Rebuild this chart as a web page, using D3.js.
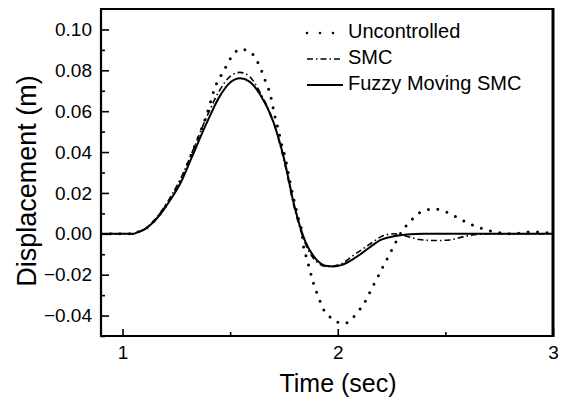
<!DOCTYPE html>
<html>
<head>
<meta charset="utf-8">
<script src="https://cdn.jsdelivr.net/npm/d3@7"></script>
<style>
  body { margin: 0; background: #fff; }
  svg { display: block; font-family: "Liberation Sans", Arial, sans-serif; }
</style>
</head>
<body>
<svg id="chart" width="565" height="400"></svg>
<script>
// data
const timeUnc = [0.9, 1.0, 1.05, 1.07, 1.1, 1.13, 1.16, 1.19, 1.22, 1.27, 1.32, 1.39, 1.437, 1.468, 1.499, 1.549, 1.6, 1.639, 1.662, 1.685, 1.709, 1.724, 1.74, 1.755, 1.778, 1.817, 1.833, 1.84, 1.856, 1.871, 1.887, 1.91, 1.934, 1.98, 2.02, 2.042, 2.088, 2.127, 2.158, 2.189, 2.22, 2.251, 2.297, 2.343, 2.398, 2.452, 2.514, 2.576, 2.638, 2.692, 2.754, 2.816, 2.878, 2.925, 3.0];
const dispUnc = [0, 0, 0, 0.0008, 0.002, 0.0045, 0.0078, 0.012, 0.0168, 0.026, 0.039, 0.058, 0.0736, 0.0793, 0.0854, 0.0904, 0.0883, 0.0815, 0.0752, 0.0687, 0.057, 0.0508, 0.0434, 0.0377, 0.0255, 0.0076, 0.001, -0.0055, -0.012, -0.018, -0.0242, -0.0308, -0.037, -0.0418, -0.044, -0.0435, -0.0389, -0.0332, -0.0267, -0.0205, -0.0141, -0.0079, 0.001, 0.0068, 0.0113, 0.0121, 0.0103, 0.0068, 0.0038, 0.0019, 0.0005, 0, 0.0009, 0.0009, 0.0002];

const timeSmc = [0.9, 1.0, 1.05, 1.07, 1.1, 1.13, 1.16, 1.19, 1.22, 1.27, 1.32, 1.39, 1.45, 1.5, 1.546, 1.59, 1.64, 1.7, 1.75, 1.8, 1.85, 1.9, 1.95, 1.98, 2.02, 2.08, 2.15, 2.2, 2.26, 2.32, 2.38, 2.45, 2.52, 2.58, 2.65, 2.7, 3.0];
const dispSmc = [0, 0, 0, 0.0008, 0.0021, 0.0047, 0.0082, 0.0125, 0.0175, 0.027, 0.039, 0.057, 0.07, 0.077, 0.079, 0.077, 0.069, 0.055, 0.036, 0.012, -0.005, -0.0135, -0.016, -0.0158, -0.0145, -0.01, -0.005, -0.0015, 0, -0.0012, -0.0028, -0.0033, -0.003, -0.0015, -0.0003, 0, 0];

const timeFuzzy = [0.9, 1.0, 1.05, 1.07, 1.1, 1.13, 1.16, 1.19, 1.22, 1.27, 1.32, 1.39, 1.45, 1.5, 1.546, 1.59, 1.64, 1.7, 1.75, 1.8, 1.85, 1.9, 1.95, 1.98, 2.02, 2.08, 2.15, 2.2, 2.26, 2.32, 2.4, 3.0];
const dispFuzzy = [0, 0, 0, 0.0008, 0.002, 0.0044, 0.0076, 0.0116, 0.0163, 0.025, 0.037, 0.054, 0.067, 0.074, 0.0761, 0.0745, 0.068, 0.055, 0.037, 0.013, -0.004, -0.0125, -0.0158, -0.016, -0.0152, -0.0118, -0.0065, -0.003, -0.0012, -0.0003, 0, 0];

const legendLabels = ["Uncontrolled", "SMC", "Fuzzy Moving SMC"];
const xTicks = [1, 2, 3];
const xMinor = [1.5, 2.5];
const yTicks = [-0.04, -0.02, 0.00, 0.02, 0.04, 0.06, 0.08, 0.10];
const yMinor = [-0.05, -0.03, -0.01, 0.01, 0.03, 0.05, 0.07, 0.09];

/* Set up */
const svg = d3.select("#chart");
const mLeft = 101, mRight = 553, mTop = 9, mBottom = 336;

const x = d3.scaleLinear().domain([0.9, 3.0]).range([mLeft, mRight]);
const y = d3.scaleLinear().domain([-0.05, 0.11]).range([mBottom, mTop]);

const series = [
  { t: timeUnc, v: dispUnc, dash: "0 9.5", width: 3, cap: "round" },
  { t: timeSmc, v: dispSmc, dash: "6 3 1.5 3", width: 1.6, cap: "butt" },
  { t: timeFuzzy, v: dispFuzzy, dash: null, width: 2, cap: "butt" },
];

const line = d3.line()
  .x((d) => x(d[0]))
  .y((d) => y(d[1]))
  .curve(d3.curveMonotoneX);

const plot = svg.append("g");
plot.append("clipPath").attr("id", "clip")
  .append("rect").attr("x", mLeft).attr("y", mTop)
  .attr("width", mRight - mLeft).attr("height", mBottom - mTop);

series.forEach((s) => {
  plot.append("path")
    .datum(s.t.map((t, i) => [t, s.v[i]]))
    .attr("clip-path", "url(#clip)")
    .attr("d", line)
    .attr("fill", "none")
    .attr("stroke", "#000")
    .attr("stroke-width", s.width)
    .attr("stroke-linecap", s.cap)
    .attr("stroke-dasharray", s.dash);
});

// axes with inward ticks
svg.append("g")
  .attr("transform", `translate(${mLeft},0)`)
  .call(d3.axisLeft(y).tickValues(yTicks).tickFormat(d3.format(".2f")).tickSizeInner(-8).tickSizeOuter(0).tickPadding(9));
svg.append("g")
  .attr("transform", `translate(${mLeft},0)`)
  .call(d3.axisLeft(y).tickValues(yMinor).tickFormat("").tickSizeInner(-4).tickSizeOuter(0));

svg.append("g")
  .attr("transform", `translate(0,${mBottom})`)
  .call(d3.axisBottom(x).tickValues(xTicks).tickFormat(d3.format("d")).tickSizeInner(-7).tickSizeOuter(0).tickPadding(10));
svg.append("g")
  .attr("transform", `translate(0,${mBottom})`)
  .call(d3.axisBottom(x).tickValues(xMinor).tickFormat("").tickSizeInner(-4).tickSizeOuter(0));

svg.selectAll(".domain").remove();
svg.selectAll(".tick line").attr("stroke", "#000").attr("stroke-width", 1.6);
svg.selectAll(".tick text").attr("fill", "#000").style("font-size", "19px");

// frame
svg.append("line").attr("x1", mLeft).attr("x2", mRight).attr("y1", mTop).attr("y2", mTop)
  .attr("stroke", "#000").attr("stroke-width", 1.8);
svg.append("line").attr("x1", mLeft).attr("x2", mLeft).attr("y1", mTop - 1).attr("y2", mBottom + 1)
  .attr("stroke", "#000").attr("stroke-width", 2.2);
svg.append("line").attr("x1", mLeft - 1).attr("x2", mRight + 1).attr("y1", mBottom).attr("y2", mBottom)
  .attr("stroke", "#000").attr("stroke-width", 2.2);
svg.append("line").attr("x1", mRight).attr("x2", mRight).attr("y1", mTop - 1).attr("y2", mBottom + 1)
  .attr("stroke", "#000").attr("stroke-width", 3);

// axis titles
svg.append("text")
  .attr("x", (mLeft + mRight) / 2 + 11).attr("y", 392)
  .attr("text-anchor", "middle").style("font-size", "25px")
  .text("Time (sec)");
svg.append("text")
  .attr("transform", `translate(36,181) rotate(-90)`)
  .attr("text-anchor", "middle").style("font-size", "27px")
  .text("Displacement (m)");

// legend
const legend = svg.append("g");
legendLabels.forEach((label, i) => {
  const base = 38 + i * 26;
  const s = series[i];
  legend.append("line")
    .attr("x1", 307).attr("x2", i === 0 ? 334 : 343)
    .attr("y1", base - 5).attr("y2", base - 5)
    .attr("stroke", "#000")
    .attr("stroke-width", i === 0 ? 2.6 : s.width)
    .attr("stroke-linecap", s.cap)
    .attr("stroke-dasharray", i === 0 ? "0 13" : s.dash);
  legend.append("text")
    .attr("x", 348).attr("y", base)
    .style("font-size", "20px")
    .text(label);
});
</script>
</body>
</html>
